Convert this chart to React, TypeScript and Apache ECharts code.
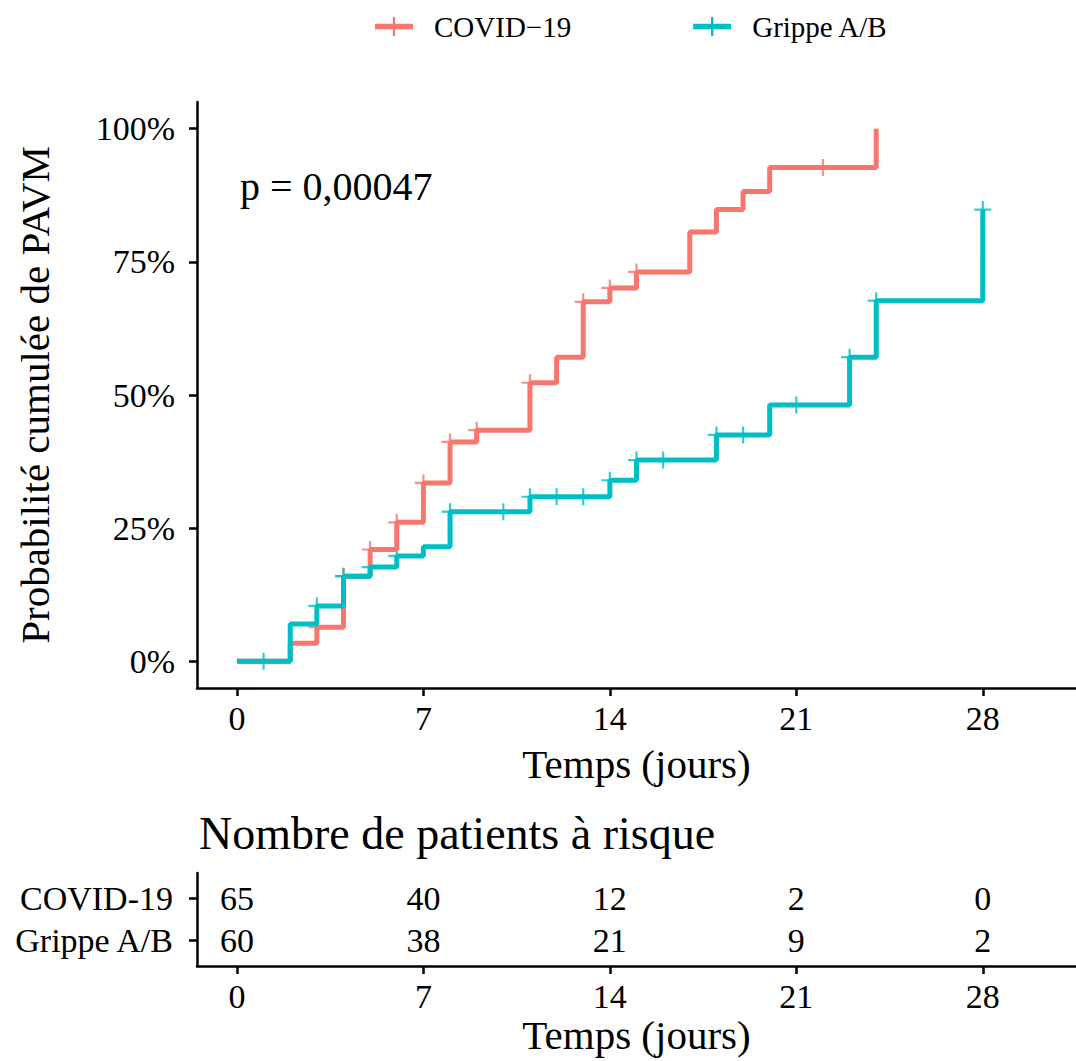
import React, { useEffect, useRef } from "react";
import * as echarts from "echarts";

// ---- data ----
const DAY_TICKS = [0, 7, 14, 21, 28];
const PCT_TICKS = [0, 25, 50, 75, 100];

const GROUP_NAMES = ["COVID\u221219", "Grippe A/B"];
const TABLE_ROW_LABELS = ["COVID-19", "Grippe A/B"];

const covidTimes = [0, 2, 3, 4, 5, 6, 7, 8, 9, 11, 12, 13, 14, 15, 17, 18, 19, 20, 24];
const covidCum = [0, 3.4, 6.4, 16, 21, 26.1, 33.5, 41.2, 43.4, 52.3, 57.1, 67.5, 70.1, 73.1, 80.6, 84.8, 88.2, 92.7, 100];
const covidCensor = [3, 4, 5, 6, 7, 8, 9, 11, 13, 14, 15, 22];

const grippeTimes = [0, 2, 3, 4, 5, 6, 7, 8, 11, 14, 15, 18, 20, 23, 24, 28];
const grippeCum = [0, 7, 10.4, 16, 17.7, 19.8, 21.5, 28.1, 30.9, 34, 37.8, 42.5, 48.1, 57.1, 67.7, 84.8];
const grippeCensor = [1, 3, 4, 5, 6, 8, 10, 11, 12, 13, 14, 15, 16, 18, 19, 21, 23, 24, 28];

const riskTimes = [0, 7, 14, 21, 28];
const covidRisk = [65, 40, 12, 2, 0];
const grippeRisk = [60, 38, 21, 9, 2];

const P_TEXT = "p = 0,00047";
const TABLE_TITLE = "Nombre de patients \u00e0 risque";
const X_TITLE = "Temps (jours)";
const Y_TITLE = "Probabilit\u00e9 cumul\u00e9e de PAVM";

// ---- styles ----
const RED = "#F8766D";
const TEAL = "#00BFC4";
const FONT = "'Liberation Serif', 'Times New Roman', serif";
const PLUS = "path://M-1,-0.13H1V0.13H-1Z M-0.13,-1H0.13V1H-0.13Z";
const LEGEND_ICON = "path://M0,7H40V13H0Z M18.8,0H21.2V20H18.8Z";

const zip = (xs: number[], ys: number[]) => xs.map((x, i) => [x, ys[i]]);
const stepAt = (times: number[], cum: number[], t: number) => {
  let v = cum[0];
  for (let i = 0; i < times.length; i++) if (times[i] <= t) v = cum[i];
  return v;
};

function buildOption() {
  const axisLine = { show: true, onZero: false, lineStyle: { color: "#000", width: 2.5 } };
  const tickStyle = { color: "#000", width: 2.5 };
  const labelBase = { color: "#000", fontFamily: FONT };

  const tableData = [
    ...riskTimes.map((t, i) => [t, 2, covidRisk[i]]),
    ...riskTimes.map((t, i) => [t, 1, grippeRisk[i]]),
  ];

  return {
    animation: false,
    backgroundColor: "#fff",
    textStyle: { fontFamily: FONT },
    legend: {
      left: 370,
      top: 7,
      itemGap: 122,
      itemWidth: 38,
      itemHeight: 19,
      icon: LEGEND_ICON,
      data: GROUP_NAMES,
      textStyle: { fontSize: 29, color: "#000", fontFamily: FONT, padding: [0, 0, 0, 16] },
    },
    grid: [
      { left: 197, top: 102, width: 879, height: 586, outerBoundsMode: "none", containLabel: false },
      { left: 197, top: 873, width: 879, height: 93, outerBoundsMode: "none", containLabel: false },
    ],
    xAxis: [
      {
        type: "value",
        gridIndex: 0,
        min: -1.5,
        max: 31.5,
        axisLine,
        axisTick: { show: true, customValues: DAY_TICKS, length: 8, lineStyle: tickStyle },
        axisLabel: { ...labelBase, customValues: DAY_TICKS, fontSize: 34, margin: 13 },
        splitLine: { show: false },
        name: X_TITLE,
        nameLocation: "middle",
        nameGap: 55,
        nameTextStyle: { ...labelBase, fontSize: 41 },
      },
      {
        type: "value",
        gridIndex: 1,
        min: -1.5,
        max: 31.5,
        axisLine,
        axisTick: { show: true, customValues: DAY_TICKS, length: 8, lineStyle: tickStyle },
        axisLabel: { ...labelBase, customValues: DAY_TICKS, fontSize: 34, margin: 13 },
        splitLine: { show: false },
        name: X_TITLE,
        nameLocation: "middle",
        nameGap: 48,
        nameTextStyle: { ...labelBase, fontSize: 41 },
      },
    ],
    yAxis: [
      {
        type: "value",
        gridIndex: 0,
        min: -5,
        max: 105,
        axisLine,
        axisTick: { show: true, customValues: PCT_TICKS, length: 8, lineStyle: tickStyle },
        axisLabel: { ...labelBase, customValues: PCT_TICKS, fontSize: 34, margin: 22, formatter: "{value}%" },
        splitLine: { show: false },
        name: Y_TITLE,
        nameLocation: "middle",
        nameGap: 142,
        nameTextStyle: { ...labelBase, fontSize: 41 },
      },
      {
        type: "value",
        gridIndex: 1,
        min: 0.4,
        max: 2.6,
        axisLine,
        axisTick: { show: true, customValues: [1, 2], length: 8, lineStyle: tickStyle },
        axisLabel: {
          ...labelBase,
          customValues: [1, 2],
          fontSize: 34,
          margin: 24,
          formatter: (v: number) => (v === 2 ? TABLE_ROW_LABELS[0] : TABLE_ROW_LABELS[1]),
        },
        splitLine: { show: false },
      },
    ],
    graphic: [
      {
        type: "text",
        style: { x: 240, y: 186, text: P_TEXT, fill: "#000", font: `40px ${FONT}`, verticalAlign: "middle" },
      },
      {
        type: "text",
        style: { x: 199, y: 833, text: TABLE_TITLE, fill: "#000", font: `46px ${FONT}`, verticalAlign: "middle" },
      },
    ],
    series: [
      {
        name: GROUP_NAMES[0],
        type: "line",
        step: "end",
        xAxisIndex: 0,
        yAxisIndex: 0,
        showSymbol: false,
        symbol: "none",
        color: RED,
        lineStyle: { color: RED, width: 5 },
        data: zip(covidTimes, covidCum),
      },
      {
        name: GROUP_NAMES[1],
        type: "line",
        step: "end",
        xAxisIndex: 0,
        yAxisIndex: 0,
        showSymbol: false,
        symbol: "none",
        color: TEAL,
        lineStyle: { color: TEAL, width: 5 },
        data: zip(grippeTimes, grippeCum),
      },
      {
        name: "censor-covid",
        type: "scatter",
        xAxisIndex: 0,
        yAxisIndex: 0,
        symbol: PLUS,
        symbolSize: 17,
        silent: true,
        itemStyle: { color: RED },
        data: covidCensor.map((t) => [t, stepAt(covidTimes, covidCum, t)]),
      },
      {
        name: "censor-grippe",
        type: "scatter",
        xAxisIndex: 0,
        yAxisIndex: 0,
        symbol: PLUS,
        symbolSize: 17,
        silent: true,
        itemStyle: { color: TEAL },
        data: grippeCensor.map((t) => [t, stepAt(grippeTimes, grippeCum, t)]),
      },
      {
        name: "risk-table",
        type: "scatter",
        xAxisIndex: 1,
        yAxisIndex: 1,
        symbolSize: 0,
        silent: true,
        itemStyle: { color: "#000", opacity: 1 },
        label: {
          show: true,
          position: "inside",
          formatter: (p: any) => String(p.value[2]),
          fontSize: 34,
          color: "#000",
          opacity: 1,
          textBorderWidth: 0,
          fontFamily: FONT,
        },
        data: tableData,
      },
    ],
  };
}

export default function App() {
  const ref = useRef<HTMLDivElement>(null);
  useEffect(() => {
    if (!ref.current) return;
    const chart = echarts.init(ref.current, null, { renderer: "svg" });
    chart.setOption(buildOption() as any);
    return () => chart.dispose();
  }, []);
  return (
    <div
      ref={ref}
      style={{ position: "absolute", left: 0, top: 0, width: 1076, height: 1061, background: "#fff" }}
    />
  );
}
